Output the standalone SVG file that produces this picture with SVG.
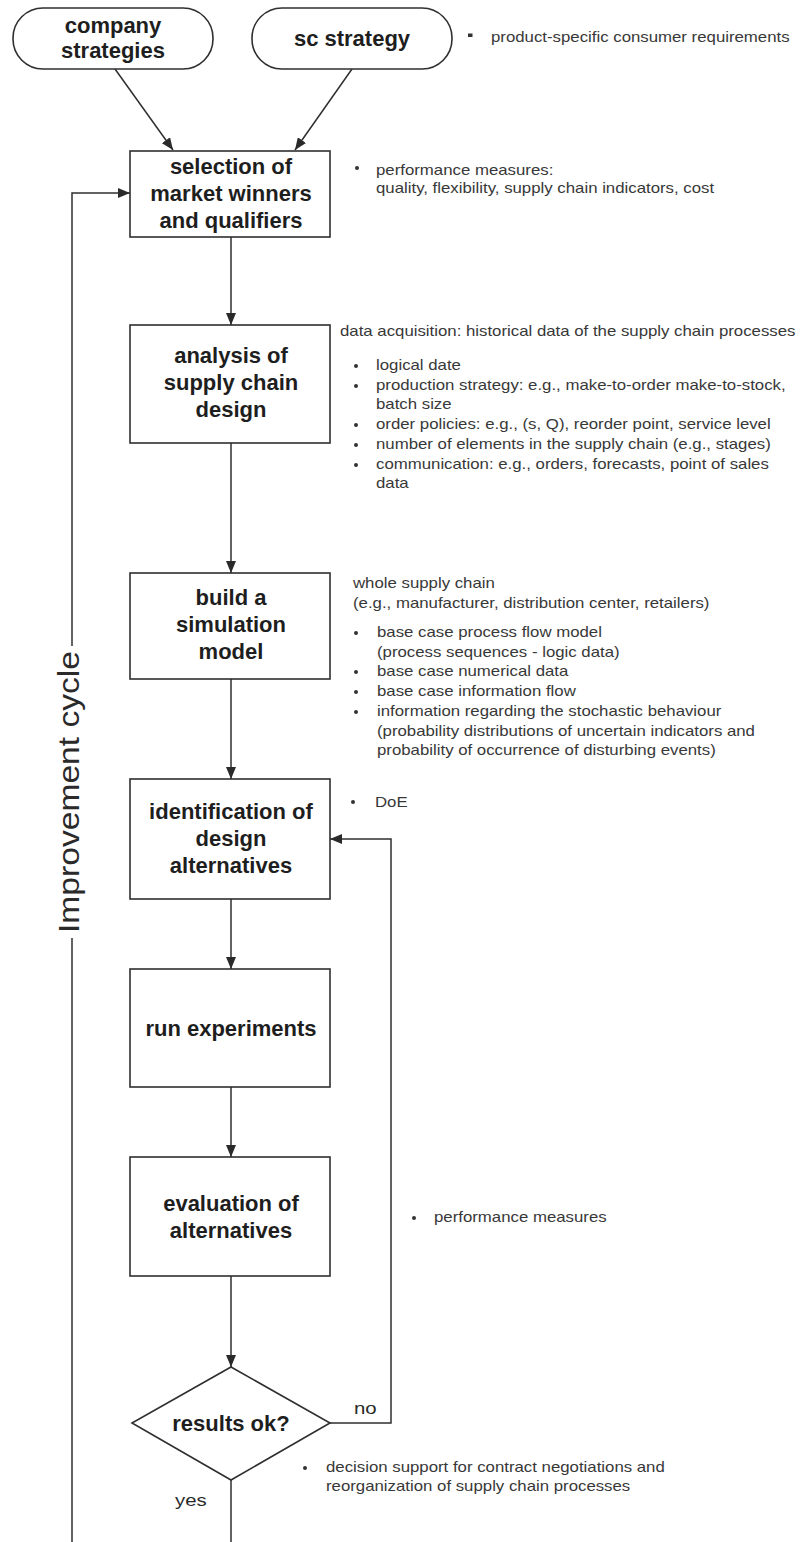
<svg xmlns="http://www.w3.org/2000/svg" width="800" height="1542" viewBox="0 0 800 1542">
  <defs>
    <marker id="arrow" viewBox="0 0 12 10" refX="12" refY="5" markerWidth="12" markerHeight="10" markerUnits="userSpaceOnUse" orient="auto">
      <path d="M0,0 L12,5 L0,10 Z" fill="#2a2a2a"/>
    </marker>
    <style>
      .box { fill: #ffffff; stroke: #2f2f2f; stroke-width: 1.6; }
      .lbl { font-family: "Liberation Sans", Arial, sans-serif; font-weight: bold; font-size: 22px; fill: #1e1e1e; text-anchor: middle; }
      .ann { font-family: "Liberation Sans", Arial, sans-serif; font-size: 14px; fill: #383838; }
      .yn { font-family: "Liberation Sans", Arial, sans-serif; font-size: 17px; fill: #2a2a2a; }
      .cyc { font-family: "Liberation Sans", Arial, sans-serif; font-size: 29px; fill: #2a2a2a; text-anchor: middle; }
      .link { fill: none; stroke: #2f2f2f; stroke-width: 1.5; }
      .dot { fill: #333333; }
    </style>
  </defs>
  <rect width="800" height="1542" fill="#ffffff"/>

  <!-- connectors -->
  <g id="connectors">
    <path class="link" d="M115,69 L173,150" marker-end="url(#arrow)"/>
    <path class="link" d="M352,69 L295,150" marker-end="url(#arrow)"/>
    <path class="link" d="M231,237 L231,325" marker-end="url(#arrow)"/>
    <path class="link" d="M231,443 L231,573" marker-end="url(#arrow)"/>
    <path class="link" d="M231,679 L231,779" marker-end="url(#arrow)"/>
    <path class="link" d="M231,899 L231,969" marker-end="url(#arrow)"/>
    <path class="link" d="M231,1087 L231,1157" marker-end="url(#arrow)"/>
    <path class="link" d="M231,1276 L231,1367" marker-end="url(#arrow)"/>
    <!-- "no" branch back to the design alternatives -->
    <path class="link" d="M330,1423 L391,1423 L391,839 L330,839" marker-end="url(#arrow)"/>
    <!-- "yes" branch -->
    <path class="link" d="M231,1480 L231,1542"/>
    <!-- improvement cycle loop -->
    <path class="link" d="M72,1542 L72,938"/>
    <path class="link" d="M72,646 L72,193 L130,193" marker-end="url(#arrow)"/>
  </g>

  <!-- loop label -->
  <text class="cyc" transform="translate(79,792) rotate(-90)" textLength="282" lengthAdjust="spacingAndGlyphs">Improvement cycle</text>

  <g id="company-strategies">
    <rect class="box" x="13" y="8" width="200" height="61" rx="30" ry="30"/>
    <text class="lbl" x="113" y="33">company</text>
    <text class="lbl" x="113" y="58">strategies</text>
  </g>

  <g id="sc-strategy">
    <rect class="box" x="252" y="8" width="200" height="61" rx="30" ry="30"/>
    <text class="lbl" x="352" y="46">sc strategy</text>
  </g>
  <g id="note-sc-strategy">
    <rect class="dot" x="468" y="33.5" width="4.5" height="3.5"/>
    <text class="ann" transform="translate(491,42) scale(1.2,1)">product-specific consumer requirements</text>
  </g>

  <g id="selection">
    <rect class="box" x="130" y="151" width="200" height="86"/>
    <text class="lbl" x="231" y="174">selection of</text>
    <text class="lbl" x="231" y="201">market winners</text>
    <text class="lbl" x="231" y="228">and qualifiers</text>
  </g>
  <g id="note-selection">
    <circle class="dot" cx="357" cy="168" r="2"/>
    <text class="ann" transform="translate(376,175) scale(1.2,1)">performance measures:</text>
    <text class="ann" transform="translate(376,193) scale(1.2,1)">quality, flexibility, supply chain indicators, cost</text>
  </g>

  <g id="analysis">
    <rect class="box" x="130" y="325" width="200" height="118"/>
    <text class="lbl" x="231" y="363">analysis of</text>
    <text class="lbl" x="231" y="390">supply chain</text>
    <text class="lbl" x="231" y="417">design</text>
  </g>
  <g id="note-analysis">
    <text class="ann" transform="translate(340,336) scale(1.2,1)">data acquisition: historical data of the supply chain processes</text>
    <circle class="dot" cx="356" cy="366" r="2"/>
    <text class="ann" transform="translate(376,370) scale(1.2,1)">logical date</text>
    <circle class="dot" cx="356" cy="386" r="2"/>
    <text class="ann" transform="translate(376,390) scale(1.2,1)">production strategy: e.g., make-to-order make-to-stock,</text>
    <text class="ann" transform="translate(376,409) scale(1.2,1)">batch size</text>
    <circle class="dot" cx="356" cy="425" r="2"/>
    <text class="ann" transform="translate(376,429) scale(1.2,1)">order policies: e.g., (s, Q), reorder point, service level</text>
    <circle class="dot" cx="356" cy="445" r="2"/>
    <text class="ann" transform="translate(376,449) scale(1.2,1)">number of elements in the supply chain (e.g., stages)</text>
    <circle class="dot" cx="356" cy="465" r="2"/>
    <text class="ann" transform="translate(376,469) scale(1.2,1)">communication: e.g., orders, forecasts, point of sales</text>
    <text class="ann" transform="translate(376,488) scale(1.2,1)">data</text>
  </g>

  <g id="build-model">
    <rect class="box" x="130" y="573" width="200" height="106"/>
    <text class="lbl" x="231" y="605">build a</text>
    <text class="lbl" x="231" y="632">simulation</text>
    <text class="lbl" x="231" y="659">model</text>
  </g>
  <g id="note-build-model">
    <text class="ann" transform="translate(353,588) scale(1.2,1)">whole supply chain</text>
    <text class="ann" transform="translate(353,608) scale(1.2,1)">(e.g., manufacturer, distribution center, retailers)</text>
    <circle class="dot" cx="356" cy="633" r="2"/>
    <text class="ann" transform="translate(377,637) scale(1.2,1)">base case process flow model</text>
    <text class="ann" transform="translate(377,657) scale(1.2,1)">(process sequences - logic data)</text>
    <circle class="dot" cx="356" cy="672" r="2"/>
    <text class="ann" transform="translate(377,676) scale(1.2,1)">base case numerical data</text>
    <circle class="dot" cx="356" cy="692" r="2"/>
    <text class="ann" transform="translate(377,696) scale(1.2,1)">base case information flow</text>
    <circle class="dot" cx="356" cy="712" r="2"/>
    <text class="ann" transform="translate(377,716) scale(1.2,1)">information regarding the stochastic behaviour</text>
    <text class="ann" transform="translate(377,736) scale(1.2,1)">(probability distributions of uncertain indicators and</text>
    <text class="ann" transform="translate(377,755) scale(1.2,1)">probability of occurrence of disturbing events)</text>
  </g>

  <g id="design-alternatives">
    <rect class="box" x="130" y="779" width="200" height="120"/>
    <text class="lbl" x="231" y="819">identification of</text>
    <text class="lbl" x="231" y="846">design</text>
    <text class="lbl" x="231" y="873">alternatives</text>
  </g>
  <g id="note-design-alternatives">
    <circle class="dot" cx="353" cy="802" r="2"/>
    <text class="ann" transform="translate(375,807) scale(1.2,1)">DoE</text>
  </g>

  <g id="run-experiments">
    <rect class="box" x="130" y="969" width="200" height="118"/>
    <text class="lbl" x="231" y="1036">run experiments</text>
  </g>

  <g id="evaluation">
    <rect class="box" x="130" y="1157" width="200" height="119"/>
    <text class="lbl" x="231" y="1211">evaluation of</text>
    <text class="lbl" x="231" y="1238">alternatives</text>
  </g>
  <g id="note-evaluation">
    <circle class="dot" cx="414" cy="1218" r="2"/>
    <text class="ann" transform="translate(434,1222) scale(1.2,1)">performance measures</text>
  </g>

  <g id="results-ok">
    <polygon class="box" points="231,1367 330,1423 231,1480 132,1423"/>
    <text class="lbl" x="231" y="1431">results ok?</text>
  </g>
  <text class="yn" transform="translate(354,1414) scale(1.2,1)">no</text>
  <text class="yn" transform="translate(175,1506) scale(1.2,1)">yes</text>
  <g id="note-results">
    <circle class="dot" cx="305" cy="1468" r="2"/>
    <text class="ann" transform="translate(326,1472) scale(1.2,1)">decision support for contract negotiations and</text>
    <text class="ann" transform="translate(326,1491) scale(1.2,1)">reorganization of supply chain processes</text>
  </g>
</svg>
